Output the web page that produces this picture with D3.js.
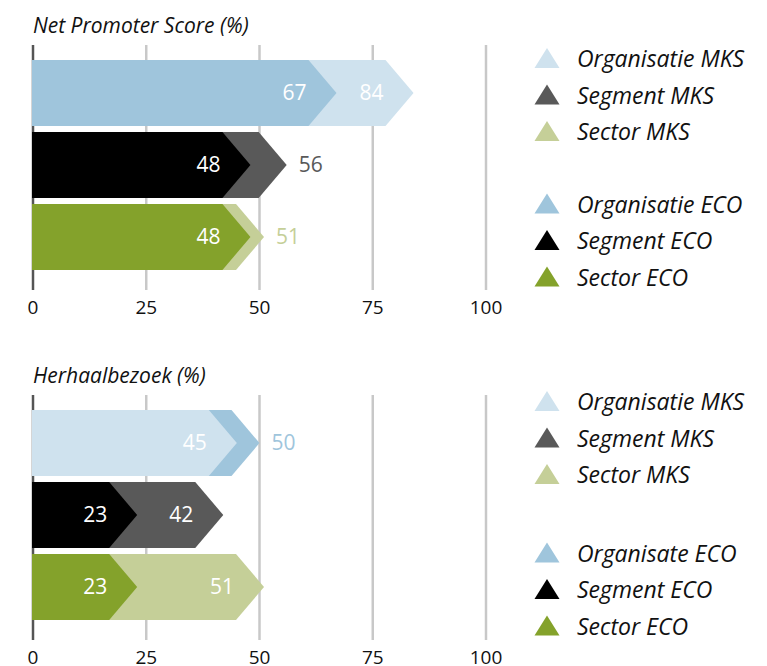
<!DOCTYPE html>
<html lang="nl">
<head>
  <meta charset="UTF-8">
  <title>NPS en Herhaalbezoek</title>
  <script src="https://d3js.org/d3.v7.min.js"></script>
  <style>
    body { margin: 0; background: #fff; font-family: "Open Sans", sans-serif; }
  </style>
</head>
<body>
  <svg width="767" height="666"></svg>

  <script>
    // Data
    const categories = ["Organisatie", "Segment", "Sector"];
    const ticks = [0, 25, 50, 75, 100];

    const npsMKS = [84, 56, 51];
    const npsECO = [67, 48, 48];
    const herhaalMKS = [45, 42, 51];
    const herhaalECO = [50, 23, 23];

    const legendNps = ["Organisatie MKS", "Segment MKS", "Sector MKS", "Organisatie ECO", "Segment ECO", "Sector ECO"];
    const legendHerhaal = ["Organisatie MKS", "Segment MKS", "Sector MKS", "Organisate ECO", "Segment ECO", "Sector ECO"];

    // colours per category: MKS (light) and ECO (dark)
    const colMKS = ["#cfe2ee", "#595959", "#c5cf98"];
    const colECO = ["#9fc5dc", "#000000", "#84a22b"];

    const svg = d3.select("svg");

    const x = d3.scaleLinear().domain([0, 100]).range([33, 486]);

    function drawPanel(top, title, mks, eco, legend, legendTop, legendGap) {
      const g = svg.append("g").attr("transform", `translate(0,${top})`);

      const y = d3.scaleBand()
          .domain(categories)
          .range([60, 270])
          .paddingInner(1 / 12);

      // title
      g.append("text")
          .attr("x", 33)
          .attr("y", 33)
          .attr("font-size", 21)
          .attr("font-style", "italic")
          .attr("fill", "#111")
          .text(title);

      // grid lines
      g.append("g").selectAll("line")
          .data(ticks)
          .enter().append("line")
          .attr("x1", d => x(d)).attr("x2", d => x(d))
          .attr("y1", 45).attr("y2", 290)
          .attr("stroke", d => d === 0 ? "#555" : "#c8c8c8")
          .attr("stroke-width", 2.5);

      // tick labels
      g.append("g").selectAll("text")
          .data(ticks)
          .enter().append("text")
          .attr("x", d => x(d))
          .attr("y", 314)
          .attr("text-anchor", "middle")
          .attr("font-size", 19)
          .attr("fill", "#111")
          .text(d => d);

      // arrow shape
      const depth = 28;
      function arrow(v, y0, h) {
        const tip = x(v);
        return `M${x(0) - 1},${y0}L${tip - depth},${y0}L${tip},${y0 + h / 2}L${tip - depth},${y0 + h}L${x(0) - 1},${y0 + h}Z`;
      }

      categories.forEach((c, i) => {
        const items = [
          { v: mks[i], col: colMKS[i] },
          { v: eco[i], col: colECO[i] }
        ].sort((a, b) => b.v - a.v);
        const back = items[0], front = items[1];
        const y0 = y(c), h = y.bandwidth(), mid = y0 + h / 2;

        g.append("path").attr("d", arrow(back.v, y0, h)).attr("fill", back.col);
        g.append("path").attr("d", arrow(front.v, y0, h)).attr("fill", front.col);

        // front label
        g.append("text")
            .attr("x", x(front.v) - 30)
            .attr("y", mid)
            .attr("dy", "0.35em")
            .attr("text-anchor", "end")
            .attr("font-size", 21)
            .attr("fill", "#fff")
            .text(front.v);

        // back label: inside if room, else after the tip
        const inside = back.v - front.v > 10;
        g.append("text")
            .attr("x", inside ? x(back.v) - 30 : x(back.v) + 12)
            .attr("y", mid)
            .attr("dy", "0.35em")
            .attr("text-anchor", inside ? "end" : "start")
            .attr("font-size", 21)
            .attr("fill", inside ? "#fff" : back.col)
            .text(back.v);
      });

      // legend
      const legendCols = colMKS.concat(colECO);
      const lg = g.append("g").selectAll("g")
          .data(legend)
          .enter().append("g")
          .attr("transform", (d, i) => `translate(547,${legendTop + i * 36.5 + (i > 2 ? legendGap : 0)})`);

      lg.append("path")
          .attr("d", "M-12.5,9L0,-11L12.5,9Z")
          .attr("fill", (d, i) => legendCols[i]);

      lg.append("text")
          .attr("x", 30)
          .attr("dy", "0.35em")
          .attr("font-size", 23)
          .attr("font-style", "italic")
          .attr("fill", "#111")
          .text(d => d);
    }

    drawPanel(0, "Net Promoter Score (%)", npsMKS, npsECO, legendNps, 59, 36);
    drawPanel(350, "Herhaalbezoek (%)", herhaalMKS, herhaalECO, legendHerhaal, 52, 42);
  </script>
</body>
</html>
